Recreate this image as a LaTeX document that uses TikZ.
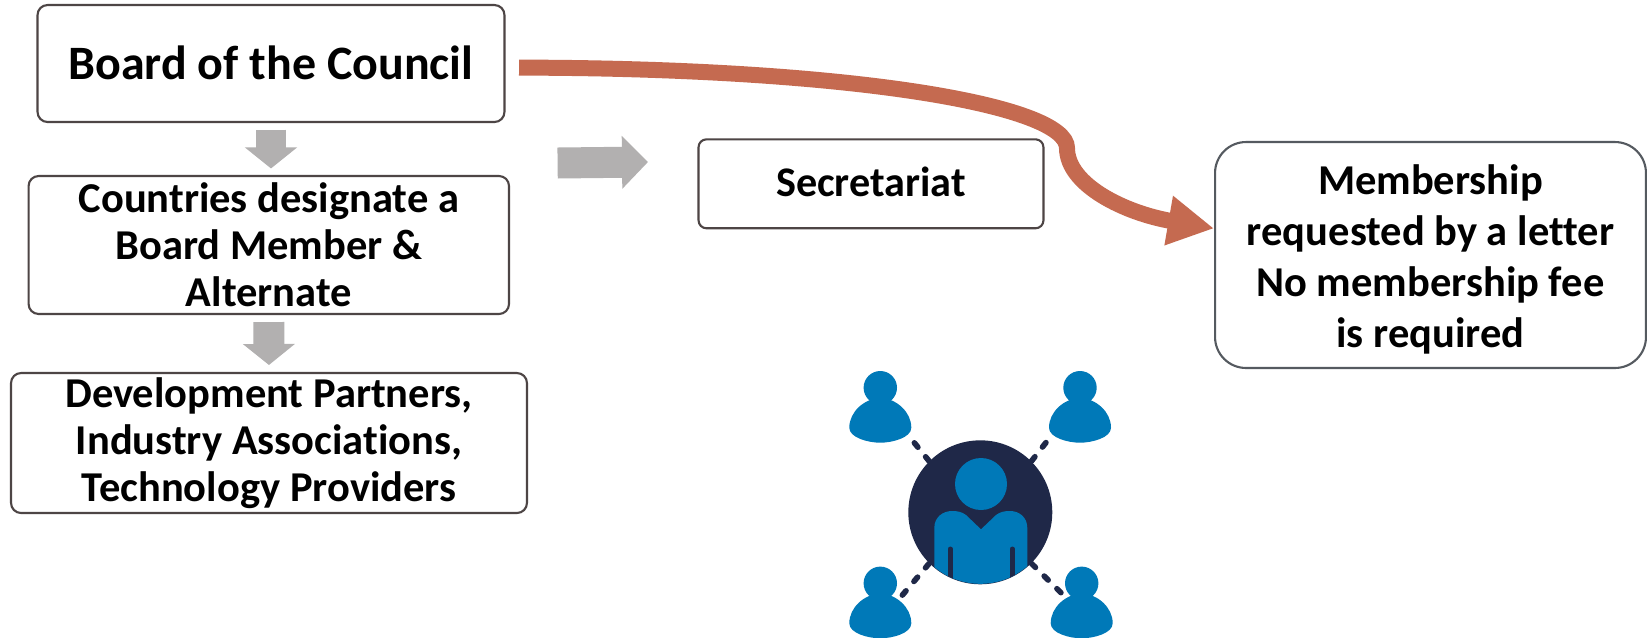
\documentclass[tikz,border=0pt]{standalone}
\usepackage{fontspec}
\setmainfont[Ligatures=NoCommon]{Carlito}
\usetikzlibrary{arrows.meta}
\definecolor{boxline}{HTML}{4D4545}
\definecolor{memberline}{HTML}{555A60}
\definecolor{flowgray}{HTML}{B2B0B0}
\definecolor{lettercurve}{HTML}{C56A50}
\definecolor{figblue}{HTML}{0079B8}
\definecolor{hubnavy}{HTML}{1F2848}
\tikzset{
  x=0.02cm, y=-0.02cm,
  box/.style={draw=boxline, line width=1.2pt, rounded corners=0.2cm, align=center, inner sep=0pt, font=\bfseries},
  flow/.style={draw=flowgray, line width=0.62cm, -{Triangle[length=0.42cm,width=1.02cm]}},
  link/.style={draw=hubnavy, line width=3.2pt, line cap=round, dash pattern=on 3.2pt off 7pt},
  figure/.pic={
    \fill[figblue] (0,0) circle [radius=16.7];
    \fill[figblue] (-31,40) .. controls (-31,24) and (-16,11) .. (0,10)
      .. controls (16,11) and (31,24) .. (31,40)
      .. controls (31,50) and (12,55) .. (0,55)
      .. controls (-12,55) and (-31,50) .. (-31,40) -- cycle;
  }
}
\begin{document}
\begin{tikzpicture}
\useasboundingbox (0,0) rectangle (1647,637);
\clip (0,0) rectangle (1647,637);
\fill[white] (0,0) rectangle (1647,637);

% boxes
\node[box, minimum width=9.34cm, minimum height=2.34cm, text depth=1.2pt, font=\bfseries\fontsize{27.3}{32}\selectfont] (board) at (271,63.5) {Board of the Council};
\node[box, minimum width=9.61cm, minimum height=2.76cm, font=\bfseries\fontsize{24.2}{26.8}\selectfont] (countries) at (268.8,245) {Countries designate a\\Board Member \&\\Alternate};
\node[box, minimum width=10.32cm, minimum height=2.8cm, font=\bfseries\fontsize{24.2}{26.8}\selectfont] (partners) at (269,443) {Development Partners,\\Industry Associations,\\Technology Providers};
\node[box, minimum width=6.9cm, minimum height=1.78cm, rounded corners=0.16cm, text depth=2.4pt, font=\bfseries\fontsize{24}{28}\selectfont] (secretariat) at (871,183.8) {Secretariat};
\node[box, draw=memberline, minimum width=8.62cm, minimum height=4.52cm, rounded corners=0.62cm, font=\bfseries\fontsize{24.2}{28.9}\selectfont] (member) at (1430.5,255) {\rule{0pt}{22pt}Membership\\requested by a letter\\No membership fee\\is required};

% gray arrows
\draw[flow, shorten <=0.13cm, shorten >=0.13cm] (board.south) -- (board.south |- countries.north);
\draw[flow, shorten <=0.14cm, shorten >=0.14cm] (countries.south) -- (partners.north);
\coordinate (sideleft) at (557.6,163);
\coordinate (sideright) at (648,162);
\draw[flow, -{Triangle[length=0.52cm,width=1.03cm]}] (sideleft) -- (sideright);

% letter curve
\coordinate (bend) at (1067,148);
\draw[draw=lettercurve, line width=0.32cm, shorten <=0.27cm, -{Triangle[length=0.92cm,width=0.94cm]}]
(board.-1) .. controls (850,68) and (1067,105) .. (bend)
.. controls (1067,185) and (1125,213) .. (member.173);

% people
\node[circle, fill=hubnavy, minimum size=2.88cm, inner sep=0pt] (hub) at (980.3,512.3) {};
\coordinate (figa) at (910.7,438.3);
\coordinate (figb) at (1049.3,438.3);
\coordinate (figc) at (901,596.7);
\coordinate (figd) at (1063.3,595);
\draw[link] (hub.135) -- (figa);
\draw[link] (hub.45) -- (figb);
\draw[link] (hub.225) -- (figc);
\draw[link] (hub.-45) -- (figd);
\pic at (880.3,387.7) {figure};
\pic at (1080,387.7) {figure};
\pic at (880.3,583.3) {figure};
\pic at (1081.7,583.3) {figure};
\begin{scope}
\clip (hub) circle [radius=71.5];
\fill[figblue] (981,484) circle [radius=26];
\fill[figblue] (934.3,600) -- (934.3,528) .. controls (934.3,517) and (943,511) .. (952,511)
.. controls (958,511) and (962,512) .. (966,515) -- (981,529.3) -- (996,515)
.. controls (1000,512) and (1004,511) .. (1010,511) .. controls (1019,511) and (1027.3,517) .. (1027.3,528)
-- (1027.3,600) -- cycle;
\draw[hubnavy, line width=2.8pt, line cap=round]
(950.3,549) -- (950.3,600)
(1012.3,549) -- (1012.3,600);
\end{scope}
\end{tikzpicture}
\end{document}
